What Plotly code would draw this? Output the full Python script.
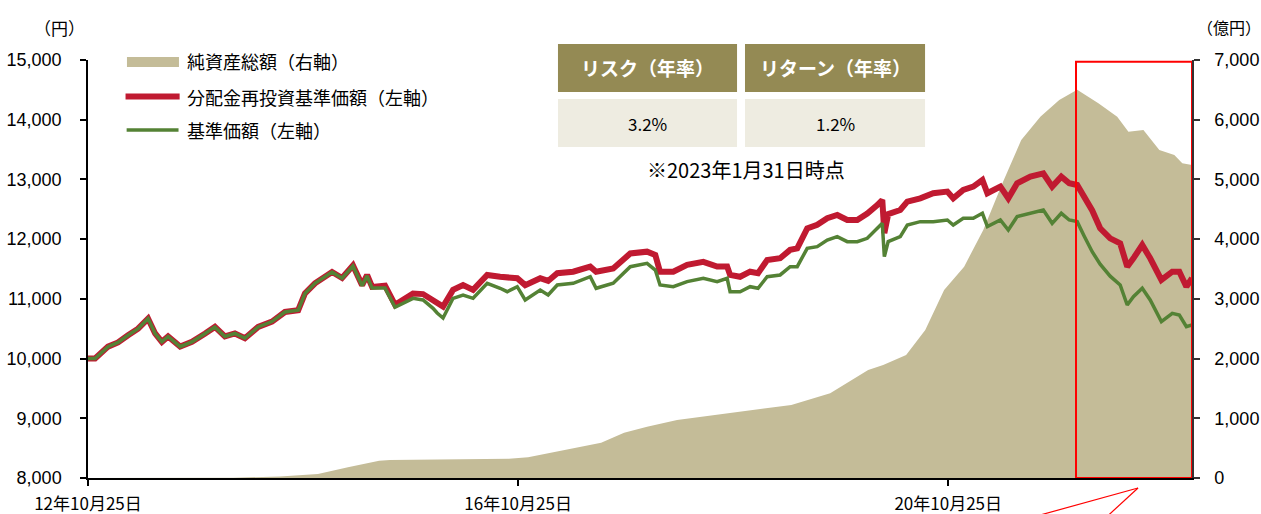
import plotly.graph_objects as go

# ---------------- data ----------------
line_dates = [
    "2012-10-25", "2012-11-18", "2013-01-01", "2013-02-04", "2013-03-10", "2013-04-13",
    "2013-05-17", "2013-06-10", "2013-07-03", "2013-07-24", "2013-09-03", "2013-10-13",
    "2013-11-27", "2013-12-30", "2014-02-02", "2014-03-08", "2014-04-11", "2014-05-26",
    "2014-07-12", "2014-08-25", "2014-10-09", "2014-11-01", "2014-12-05", "2015-02-01",
    "2015-03-07", "2015-04-13", "2015-05-14", "2015-05-31", "2015-06-17", "2015-07-31",
    "2015-09-03", "2015-10-07", "2015-11-03", "2015-12-07", "2016-01-10", "2016-01-24",
    "2016-02-13", "2016-03-18", "2016-04-21", "2016-05-25", "2016-07-12", "2016-08-25",
    "2016-09-18", "2016-10-22", "2016-11-18", "2017-01-08", "2017-02-04", "2017-03-07",
    "2017-04-30", "2017-06-27", "2017-07-17", "2017-09-13", "2017-11-10", "2018-01-06",
    "2018-02-03", "2018-02-19", "2018-04-05", "2018-05-22", "2018-07-16", "2018-09-01",
    "2018-10-05", "2018-10-15", "2018-11-18", "2018-12-22", "2019-01-18", "2019-02-18",
    "2019-04-03", "2019-05-07", "2019-05-31", "2019-07-04", "2019-08-07", "2019-09-10",
    "2019-10-14", "2019-11-17", "2019-12-21", "2020-01-24", "2020-02-27", "2020-03-15",
    "2020-03-22", "2020-04-04", "2020-05-15", "2020-06-08", "2020-07-22", "2020-09-04",
    "2020-10-22", "2020-11-11", "2020-12-15", "2021-01-18", "2021-02-18", "2021-03-07",
    "2021-04-20", "2021-05-17", "2021-06-16", "2021-07-31", "2021-09-13", "2021-10-13",
    "2021-11-13", "2021-12-10", "2022-01-06", "2022-01-30", "2022-02-26", "2022-03-25",
    "2022-04-28", "2022-06-01", "2022-06-25", "2022-07-16", "2022-08-15", "2022-09-11",
    "2022-10-19", "2022-11-25", "2022-12-19", "2023-01-12", "2023-01-31",
]

reinvested_nav = [
    10000, 10000, 10200, 10270, 10390, 10500,
    10670, 10420, 10280, 10370, 10200, 10280,
    10420, 10530, 10370, 10420, 10340, 10530,
    10620, 10780, 10810, 11090, 11260, 11450,
    11350, 11560, 11230, 11400, 11200, 11220,
    10900, 10990, 11090, 11080, 10980, 10950,
    10870, 11150, 11230, 11150, 11400, 11370,
    11360, 11345, 11230, 11345, 11300, 11430,
    11455, 11540, 11455, 11510, 11760, 11790,
    11735, 11455, 11455, 11570, 11620, 11540,
    11540, 11400, 11370, 11455, 11430, 11650,
    11680, 11820, 11846, 12180, 12240, 12350,
    12405, 12320, 12320, 12430, 12570, 12656,
    12100, 12420, 12488, 12628, 12684, 12768,
    12796, 12684, 12823, 12880, 12991, 12768,
    12880, 12684, 12935, 13046, 13100, 12880,
    13046, 12935, 12907, 12690, 12480, 12181,
    12014, 11930, 11539, 11679, 11902, 11679,
    11316, 11455, 11455, 11204, 11345,
]

nav = [
    10000, 10000, 10200, 10270, 10390, 10500,
    10670, 10420, 10280, 10370, 10200, 10280,
    10420, 10530, 10370, 10420, 10340, 10530,
    10620, 10780, 10810, 11090, 11260, 11450,
    11345, 11550, 11220, 11385, 11180, 11180,
    10860, 10950, 11009, 10981, 10842, 10763,
    10680, 11009, 11065, 11009, 11261, 11177,
    11120, 11204, 10981, 11148, 11065, 11232,
    11261, 11371, 11177, 11261, 11539, 11595,
    11483, 11232, 11204, 11288, 11345, 11288,
    11345, 11120, 11120, 11204, 11177, 11371,
    11400, 11539, 11539, 11846, 11874, 11986,
    12042, 11958, 11958, 12014, 12181, 12265,
    11707, 11958, 12042, 12237, 12293, 12293,
    12321, 12237, 12349, 12349, 12433, 12209,
    12321, 12153, 12377, 12433, 12488, 12265,
    12433, 12321, 12293, 12050, 11790, 11580,
    11380, 11232, 10897, 11037, 11177, 10981,
    10618, 10758, 10730, 10534, 10562,
]

aum_dates = [
    "2012-10-25", "2013-06-01", "2014-03-02", "2014-08-08", "2014-12-15", "2015-03-27",
    "2015-07-11", "2015-08-17", "2016-03-01", "2016-09-24", "2016-11-28", "2017-04-06",
    "2017-08-03", "2017-10-20", "2018-01-06", "2018-04-18", "2019-01-01", "2019-05-11",
    "2019-09-20", "2020-01-27", "2020-03-18", "2020-06-04", "2020-08-08", "2020-10-11",
    "2020-12-18", "2021-02-21", "2021-04-27", "2021-06-30", "2021-09-03", "2021-11-06",
    "2022-01-06", "2022-03-19", "2022-05-22", "2022-06-29", "2022-08-19", "2022-10-12",
    "2022-12-02", "2022-12-29", "2023-01-31",
]
aum = [
    0, 2, 6, 25, 67, 179,
    290, 301, 312, 323, 346, 480,
    591, 759, 859, 971, 1139, 1223,
    1418, 1809, 1892, 2060, 2479, 3149,
    3539, 4154, 4936, 5661, 6051, 6330,
    6500, 6275, 6051, 5800, 5828, 5493,
    5409, 5270, 5242,
]

x_tick_vals = ["2012-10-25", "2016-10-25", "2020-10-25"]
x_tick_text = ["12年10月25日", "16年10月25日", "20年10月25日"]

legend_labels = ["純資産総額（右軸）", "分配金再投資基準価額（左軸）", "基準価額（左軸）"]
table_headers = ["リスク（年率）", "リターン（年率）"]
table_values = ["3.2%", "1.2%"]
table_note = "※2023年1月31日時点"

# ---------------- styles ----------------
C_AREA = "#c4bc98"
C_RED = "#c01a31"
C_GREEN = "#548235"
C_HEAD = "#948a54"
C_CELL = "#eeece1"
JP = "Noto Sans CJK JP"
NUM = "Liberation Sans"

fig = go.Figure()
fig.add_trace(go.Scatter(
    x=aum_dates, y=aum, name=legend_labels[0], mode="lines",
    fill="tozeroy", fillcolor=C_AREA, line=dict(width=0, color=C_AREA),
    yaxis="y", showlegend=False,
))
fig.add_trace(go.Scatter(
    x=line_dates, y=reinvested_nav, name=legend_labels[1], mode="lines",
    line=dict(width=6, color=C_RED), yaxis="y2", showlegend=False,
))
fig.add_trace(go.Scatter(
    x=line_dates, y=nav, name=legend_labels[2], mode="lines",
    line=dict(width=3.5, color=C_GREEN), yaxis="y2", showlegend=False,
))

shapes = []
annotations = []

# legend (manual)
shapes.append(dict(type="rect", xref="paper", yref="paper", x0=0.0353, x1=0.0824,
                   y0=0.983, y1=1.007, fillcolor=C_AREA, line=dict(width=0)))
shapes.append(dict(type="line", xref="paper", yref="paper", x0=0.034, x1=0.083,
                   y0=0.9127, y1=0.9127, line=dict(color=C_RED, width=6)))
shapes.append(dict(type="line", xref="paper", yref="paper", x0=0.035, x1=0.082,
                   y0=0.8325, y1=0.8325, line=dict(color=C_GREEN, width=3.5)))
for lbl, yy in zip(legend_labels, [0.997, 0.9115, 0.8325]):
    annotations.append(dict(text=lbl, xref="paper", yref="paper", x=0.0879, y=yy,
                            xanchor="left", yanchor="middle", showarrow=False,
                            font=dict(family=JP, size=18, color="#000")))

# table
head_x = [(0.4257, 0.5879), (0.5951, 0.7582)]
for (x0, x1), h, v in zip(head_x, table_headers, table_values):
    shapes.append(dict(type="rect", xref="paper", yref="paper", x0=x0, x1=x1,
                       y0=0.9234, y1=1.0383, fillcolor=C_HEAD, line=dict(width=0)))
    shapes.append(dict(type="rect", xref="paper", yref="paper", x0=x0, x1=x1,
                       y0=0.7919, y1=0.9067, fillcolor=C_CELL, line=dict(width=0)))
    annotations.append(dict(text="<b>" + h + "</b>", xref="paper", yref="paper",
                            x=(x0 + x1) / 2, y=0.981, xanchor="center", yanchor="middle",
                            showarrow=False, font=dict(family=JP, size=19, color="white")))
    annotations.append(dict(text=v, xref="paper", yref="paper",
                            x=(x0 + x1) / 2, y=0.849, xanchor="center", yanchor="middle",
                            showarrow=False, font=dict(family=JP, size=17, color="#000")))
annotations.append(dict(text=table_note, xref="paper", yref="paper", x=0.596, y=0.737,
                        xanchor="center", yanchor="middle", showarrow=False,
                        font=dict(family=JP, size=20, color="#000")))

# axis unit labels
annotations.append(dict(text="（円）", xref="paper", yref="paper", x=-0.0254, y=1.077,
                        xanchor="center", yanchor="middle", showarrow=False,
                        font=dict(family=JP, size=17, color="#000")))
annotations.append(dict(text="（億円）", xref="paper", yref="paper", x=1.0335, y=1.079,
                        xanchor="center", yanchor="middle", showarrow=False,
                        font=dict(family=JP, size=16, color="#000")))

# highlight box and callout
shapes.append(dict(type="rect", xref="x", yref="y", x0="2022-01-02", x1="2023-01-31",
                   y0=0, y1=6970, line=dict(color="#ff0000", width=2), layer="above"))
shapes.append(dict(type="line", xref="paper", yref="paper", x0=0.9511, y0=-0.024,
                   x1=0.8605, y1=-0.09, line=dict(color="#ff0000", width=1.2)))
shapes.append(dict(type="line", xref="paper", yref="paper", x0=0.9511, y0=-0.024,
                   x1=0.9239, y1=-0.09, line=dict(color="#ff0000", width=1.2)))

fig.update_layout(
    width=1261, height=514,
    margin=dict(l=88, r=69, t=60, b=36, autoexpand=False),
    paper_bgcolor="white", plot_bgcolor="white",
    showlegend=False, hovermode=False,
    shapes=shapes, annotations=annotations,
    xaxis=dict(
        type="date", range=["2012-10-25", "2023-01-31"],
        tickvals=x_tick_vals, ticktext=x_tick_text, automargin=False,
        ticks="outside", ticklen=6, tickwidth=1.5, tickcolor="#000",
        showline=True, linecolor="#000", linewidth=1.5,
        showgrid=False, zeroline=False, ticklabelstandoff=4,
        tickfont=dict(family=JP, size=17, color="#000"),
    ),
    yaxis=dict(
        side="right", range=[0, 7000], dtick=1000, tickformat=",", automargin=False,
        ticks="outside", ticklen=6, tickwidth=1.5, tickcolor="#333",
        showline=True, linecolor="#333", linewidth=1.5,
        showgrid=False, zeroline=False, ticklabelstandoff=11,
        tickfont=dict(family=NUM, size=18, color="#000"),
    ),
    yaxis2=dict(
        side="left", overlaying="y", range=[8000, 15000], dtick=1000, tickformat=",",
        automargin=False,
        ticks="outside", ticklen=6, tickwidth=1.5, tickcolor="#000",
        showline=True, linecolor="#000", linewidth=1.5,
        showgrid=False, zeroline=False, ticklabelstandoff=15,
        tickfont=dict(family=NUM, size=18, color="#000"),
    ),
)

# remove the page's default body margin so the figure fills the window exactly
fig.write_html(
    "out.html",
    config={"displayModeBar": False},
    post_script="document.body.style.margin='0';document.body.style.overflow='hidden';",
)
